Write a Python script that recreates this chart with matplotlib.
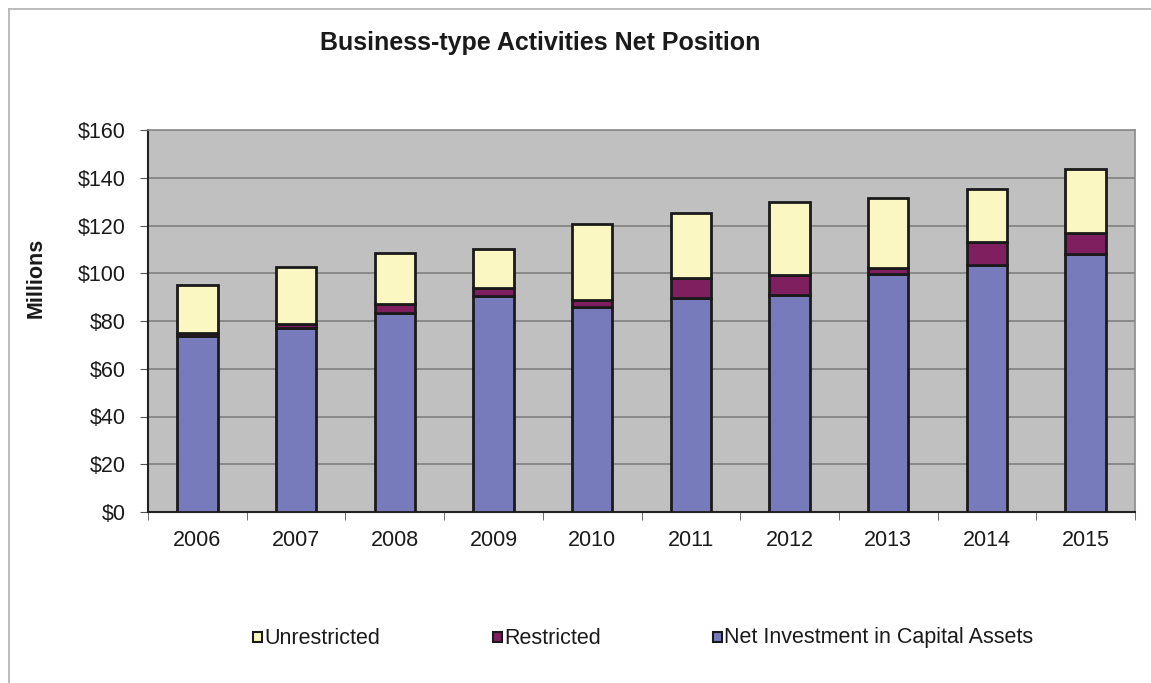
import numpy as np
import matplotlib.pyplot as plt
from matplotlib.patches import Rectangle

plt.rcParams['font.family'] = ['Liberation Sans', 'DejaVu Sans']

# Net position by year, in millions of dollars
years = ['2006', '2007', '2008', '2009', '2010', '2011', '2012', '2013', '2014', '2015']
capital_assets = [73.8, 77.2, 83.2, 90.5, 85.7, 89.5, 90.9, 99.6, 103.5, 108.1]
restricted = [1.3, 1.4, 3.8, 3.2, 3.1, 8.5, 8.5, 2.5, 9.6, 8.6]
unrestricted = [20.0, 23.9, 21.6, 16.6, 31.7, 27.4, 30.4, 29.4, 22.1, 26.8]

col_unres = '#FAF7C2'
col_res = '#7F1F5F'
col_cap = '#777BBB'

fig = plt.figure(figsize=(11.51, 6.83), dpi=100)
ax = fig.add_axes([148 / 1151, 1 - 512 / 683, 987 / 1151, 382 / 683])

x = np.arange(len(years))
w = 0.41
cap = np.array(capital_assets)
res = np.array(restricted)
unres = np.array(unrestricted)

ax.bar(x, cap, w, color=col_cap, edgecolor='#1a1a1a', linewidth=2, zorder=3)
ax.bar(x, res, w, bottom=cap, color=col_res, edgecolor='#1a1a1a', linewidth=2, zorder=3)
ax.bar(x, unres, w, bottom=cap + res, color=col_unres, edgecolor='#1a1a1a', linewidth=2, zorder=3)

ax.set_facecolor('#C0C0C0')
ax.set_xlim(-0.5, len(years) - 0.5)
ax.set_ylim(0, 160)
ax.set_yticks(np.arange(0, 161, 20))
ax.set_yticklabels(['$%d' % v for v in range(0, 161, 20)])
ax.yaxis.grid(True, color='#808080', linewidth=1.2, zorder=0)
ax.set_axisbelow(True)

ax.set_xticks(x)
ax.set_xticklabels(years)
ax.set_xticks(np.arange(-0.5, len(years), 1), minor=True)
ax.tick_params(axis='x', which='major', length=0, pad=13, labelsize=15.5, colors='#1a1a1a')
ax.tick_params(axis='x', which='minor', length=6, color='#555555')
ax.tick_params(axis='y', length=6, color='#555555', pad=10, labelsize=15.5, labelcolor='#1a1a1a')

for side in ['left', 'bottom']:
    ax.spines[side].set_color('#222222')
    ax.spines[side].set_linewidth(1.5)
for side in ['top', 'right']:
    ax.spines[side].set_color('#8a8a8a')
    ax.spines[side].set_linewidth(1.2)

fig.text(36 / 1151, 1 - 278 / 683, 'Millions', rotation=90, ha='center', va='center',
         fontsize=15.5, fontweight='bold', color='#1a1a1a')

fig.text(540 / 1151, 1 - 43 / 683, 'Business-type Activities Net Position',
         ha='center', va='center', fontsize=18, fontweight='bold', color='#1a1a1a')

# legend row under the chart
legend_items = [('Unrestricted', col_unres, 253), ('Restricted', col_res, 493),
                ('Net Investment in Capital Assets', col_cap, 713)]
for label, col, px in legend_items:
    fig.patches.append(Rectangle((px / 1151, 1 - 642 / 683), 9 / 1151, 10 / 683,
                                 transform=fig.transFigure, facecolor=col,
                                 edgecolor='#1a1a1a', linewidth=1.5))
    fig.text((px + 11) / 1151, 1 - 638 / 683, label, ha='left', va='center',
             fontsize=15.5, color='#1a1a1a')

# outer frame
fig.add_artist(plt.Line2D([9 / 1151, 9 / 1151], [0, 1 - 9 / 683], transform=fig.transFigure,
                          color='#b0b0b0', linewidth=1.2))
fig.add_artist(plt.Line2D([9 / 1151, 1], [1 - 9 / 683, 1 - 9 / 683], transform=fig.transFigure,
                          color='#b0b0b0', linewidth=1.2))

fig.savefig('out.png', dpi=100)
